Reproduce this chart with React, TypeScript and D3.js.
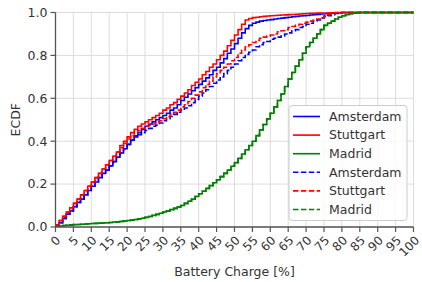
import React from 'react'
import * as d3 from 'd3'

// ECDF value at each integer battery charge (0, 1, 2, ...); the last value holds to 100
const amsterdam = [
  0.005, 0.02, 0.04, 0.06, 0.075, 0.095, 0.115, 0.13, 0.15, 0.17,
  0.19, 0.21, 0.23, 0.25, 0.265, 0.285, 0.305, 0.325, 0.345, 0.365,
  0.385, 0.405, 0.425, 0.44, 0.455, 0.47, 0.48, 0.49, 0.5, 0.51,
  0.52, 0.53, 0.545, 0.555, 0.57, 0.59, 0.605, 0.62, 0.635, 0.65,
  0.665, 0.68, 0.695, 0.71, 0.73, 0.745, 0.765, 0.785, 0.81, 0.83,
  0.855, 0.88, 0.905, 0.925, 0.94, 0.95, 0.955, 0.96, 0.963, 0.965,
  0.967, 0.97, 0.972, 0.974, 0.976, 0.978, 0.98, 0.982, 0.984, 0.985,
  0.986, 0.988, 0.99, 0.991, 0.993, 0.994, 0.996, 0.997, 0.998, 0.999,
  1,
]
const stuttgart = [
  0.01, 0.03, 0.05, 0.07, 0.09, 0.11, 0.13, 0.15, 0.17, 0.19,
  0.21, 0.23, 0.25, 0.27, 0.29, 0.31, 0.33, 0.35, 0.38, 0.4,
  0.42, 0.44, 0.455, 0.47, 0.48, 0.49, 0.5, 0.51, 0.52, 0.53,
  0.545, 0.555, 0.57, 0.58, 0.595, 0.61, 0.625, 0.64, 0.66, 0.675,
  0.69, 0.71, 0.725, 0.745, 0.76, 0.78, 0.8, 0.82, 0.845, 0.87,
  0.895, 0.92, 0.945, 0.965, 0.972, 0.976, 0.978, 0.98, 0.982, 0.984,
  0.985, 0.986, 0.987, 0.988, 0.989, 0.99, 0.991, 0.992, 0.993, 0.994,
  0.995, 0.996, 0.996, 0.997, 0.997, 0.998, 0.998, 0.999, 0.999, 1,
]
const madrid = [
  0.003, 0.005, 0.007, 0.008, 0.01, 0.011, 0.012, 0.013, 0.014, 0.015,
  0.016, 0.017, 0.018, 0.019, 0.02, 0.021, 0.023, 0.024, 0.026, 0.028,
  0.03, 0.032, 0.035, 0.038, 0.041, 0.045, 0.049, 0.054, 0.059, 0.064,
  0.07, 0.075, 0.081, 0.087, 0.094, 0.1, 0.11, 0.12, 0.13, 0.142,
  0.155, 0.167, 0.18, 0.193, 0.206, 0.22, 0.235, 0.25, 0.266, 0.283,
  0.3, 0.32, 0.34, 0.36, 0.38, 0.4, 0.426, 0.452, 0.478, 0.504,
  0.53, 0.56, 0.59, 0.62, 0.655, 0.69, 0.72, 0.75, 0.78, 0.81,
  0.84, 0.86, 0.88, 0.9, 0.92, 0.94, 0.95, 0.96, 0.97, 0.978,
  0.985, 0.99, 0.994, 0.997, 0.999, 1,
]
const amsterdam2 = [
  0.005, 0.02, 0.04, 0.06, 0.075, 0.095, 0.115, 0.13, 0.15, 0.17,
  0.19, 0.21, 0.23, 0.25, 0.265, 0.285, 0.305, 0.325, 0.345, 0.365,
  0.385, 0.405, 0.42, 0.43, 0.44, 0.45, 0.46, 0.47, 0.475, 0.485,
  0.495, 0.505, 0.515, 0.525, 0.535, 0.545, 0.555, 0.565, 0.58, 0.595,
  0.61, 0.625, 0.64, 0.655, 0.67, 0.685, 0.7, 0.715, 0.73, 0.745,
  0.76, 0.775, 0.79, 0.805, 0.815, 0.825, 0.84, 0.85, 0.86, 0.865,
  0.875, 0.88, 0.885, 0.89, 0.9, 0.905, 0.915, 0.92, 0.93, 0.935,
  0.945, 0.95, 0.96, 0.965, 0.975, 0.98, 0.985, 0.99, 0.995, 0.998,
  1,
]
const stuttgart2 = [
  0.01, 0.03, 0.05, 0.07, 0.09, 0.11, 0.13, 0.15, 0.17, 0.19,
  0.21, 0.23, 0.25, 0.27, 0.29, 0.31, 0.33, 0.35, 0.37, 0.39,
  0.41, 0.425, 0.44, 0.45, 0.46, 0.47, 0.475, 0.48, 0.49, 0.495,
  0.505, 0.515, 0.525, 0.535, 0.545, 0.56, 0.57, 0.585, 0.6, 0.615,
  0.63, 0.65, 0.665, 0.68, 0.7, 0.715, 0.73, 0.745, 0.76, 0.775,
  0.79, 0.81, 0.825, 0.84, 0.85, 0.86, 0.87, 0.88, 0.885, 0.89,
  0.895, 0.9, 0.91, 0.915, 0.92, 0.93, 0.935, 0.94, 0.945, 0.95,
  0.955, 0.96, 0.965, 0.97, 0.975, 0.985, 0.99, 0.995, 1,
]
const madrid2 = [
  0.003, 0.005, 0.007, 0.008, 0.01, 0.011, 0.012, 0.013, 0.014, 0.015,
  0.016, 0.017, 0.018, 0.019, 0.02, 0.021, 0.023, 0.024, 0.026, 0.028,
  0.03, 0.032, 0.035, 0.038, 0.041, 0.045, 0.049, 0.054, 0.059, 0.064,
  0.07, 0.075, 0.081, 0.087, 0.094, 0.1, 0.11, 0.12, 0.13, 0.142,
  0.155, 0.167, 0.18, 0.193, 0.206, 0.22, 0.235, 0.25, 0.266, 0.283,
  0.3, 0.32, 0.34, 0.36, 0.38, 0.4, 0.426, 0.452, 0.478, 0.504,
  0.53, 0.56, 0.59, 0.62, 0.655, 0.69, 0.72, 0.75, 0.78, 0.81,
  0.84, 0.86, 0.88, 0.9, 0.92, 0.94, 0.95, 0.96, 0.97, 0.978,
  0.985, 0.99, 0.994, 0.997, 0.999, 1,
]

const seriesNames = ['Amsterdam', 'Stuttgart', 'Madrid', 'Amsterdam', 'Stuttgart', 'Madrid']
const seriesValues = [amsterdam, stuttgart, madrid, amsterdam2, stuttgart2, madrid2]
const seriesColors = ['#0000ff', '#ff0000', '#008000', '#0000ff', '#ff0000', '#008000']
const seriesDashed = [false, false, false, true, true, true]

const xTicks = [0, 5, 10, 15, 20, 25, 30, 35, 40, 45, 50, 55, 60, 65, 70, 75, 80, 85, 90, 95, 100]
const yTicks = [0, 0.2, 0.4, 0.6, 0.8, 1.0]

const W = 422
const H = 282
const font = 'DejaVu Sans, sans-serif'
const fs = 12.5
const tickFs = 12
const textColor = '#333333'
const dash = '5.5,2.4'

export default function App() {
  const x = d3.scaleLinear().domain([0, 100]).range([55.5, 413.5])
  const y = d3.scaleLinear().domain([0, 1]).range([227, 12.5])

  const line = d3.line<[number, number]>()
    .x(d => x(d[0]))
    .y(d => y(d[1]))
    .curve(d3.curveStepAfter)

  const pathFor = (vals: number[]) => {
    const pts: [number, number][] = vals.map((v, i) => [i, v])
    // last step holds flat until the end of the axis
    pts.push([x.domain()[1], vals[vals.length - 1]])
    return line(pts) || ''
  }

  const legendX = 289
  const legendY = 105.5
  const rowH = 18.6

  return (
    <svg width={W} height={H} style={{ position: 'absolute', left: 0, top: 0, background: '#fff' }}
      fontFamily={font}>
      <defs>
        <clipPath id="plot">
          <rect x={x(0)} y={y(1) - 2} width={x(100) - x(0) + 2} height={y(0) - y(1) + 2} />
        </clipPath>
      </defs>

      {/* grid */}
      {xTicks.map(t => (
        <line key={'gx' + t} x1={x(t)} x2={x(t)} y1={y(0)} y2={y(1)} stroke="#dddddd" strokeWidth={1} />
      ))}
      {yTicks.map(t => (
        <line key={'gy' + t} x1={x(0)} x2={x(100)} y1={y(t)} y2={y(t)} stroke="#dddddd" strokeWidth={1} />
      ))}

      {/* curves */}
      <g clipPath="url(#plot)">
        {seriesValues.map((vals, i) => (
          <path key={i} d={pathFor(vals)} fill="none" stroke={seriesColors[i]} strokeWidth={1.6}
            strokeDasharray={seriesDashed[i] ? dash : undefined} />
        ))}
      </g>

      {/* spines */}
      <line x1={x(0)} x2={x(0)} y1={y(0)} y2={y(1)} stroke="#555555" strokeWidth={1.3} />
      <line x1={x(0)} x2={x(100)} y1={y(0)} y2={y(0)} stroke="#555555" strokeWidth={1.3} />

      {/* y ticks */}
      {yTicks.map(t => (
        <g key={'ty' + t}>
          <line x1={x(0) - 5} x2={x(0)} y1={y(t)} y2={y(t)} stroke="#555555" strokeWidth={1.2} />
          <text x={x(0) - 8} y={y(t)} dy="0.35em" textAnchor="end" fontSize={fs} fill={textColor}>
            {t.toFixed(1)}
          </text>
        </g>
      ))}

      {/* x ticks */}
      {xTicks.map(t => {
        const label = String(t)
        const w = label.length * 7.6
        const off = (w + 9) / (2 * Math.SQRT2)
        return (
          <g key={'tx' + t}>
            <line x1={x(t)} x2={x(t)} y1={y(0)} y2={y(0) + 5} stroke="#555555" strokeWidth={1.2} />
            <text transform={`translate(${x(t) - (w - 7.6) / 3.5},${y(0) + 8 + off}) rotate(-45)`} dy="0.35em"
              textAnchor="middle" fontSize={tickFs} fill={textColor}>
              {label}
            </text>
          </g>
        )
      })}

      {/* axis labels */}
      <text x={(x(0) + x(100)) / 2} y={276} textAnchor="middle" fontSize={fs} fill={textColor}>
        Battery Charge [%]
      </text>
      <text transform={`translate(19.5,${(y(0) + y(1)) / 2}) rotate(-90)`} textAnchor="middle" fontSize={fs}
        fill={textColor}>
        ECDF
      </text>

      {/* legend */}
      <rect x={legendX} y={legendY} width={118} height={115} rx={3} fill="#ffffff" fillOpacity={0.8}
        stroke="#cccccc" strokeWidth={1} />
      {seriesNames.map((name, i) => {
        const cy = legendY + 11 + i * rowH
        return (
          <g key={'lg' + i}>
            <line x1={legendX + 4} x2={legendX + 31} y1={cy} y2={cy} stroke={seriesColors[i]} strokeWidth={1.6}
              strokeDasharray={seriesDashed[i] ? dash : undefined} />
            <text x={legendX + 40} y={cy} dy="0.35em" fontSize={fs} fill={textColor}>{name}</text>
          </g>
        )
      })}
    </svg>
  )
}
